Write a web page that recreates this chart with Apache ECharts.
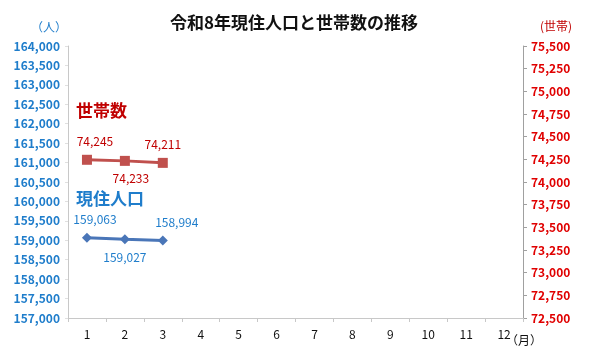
<!DOCTYPE html>
<html>
<head>
<meta charset="utf-8">
<script src="https://cdn.jsdelivr.net/npm/echarts@6/dist/echarts.min.js"></script>
<style>
  html, body { margin: 0; padding: 0; background: #fff; }
  #chart { width: 600px; height: 359px; }
</style>
</head>
<body>
<div id="chart"></div>
<script>
// 月 (カテゴリ)
const months = ['1', '2', '3', '4', '5', '6', '7', '8', '9', '10', '11', '12'];
// 現住人口 (人)
const population = [159063, 159027, 158994];
// 世帯数 (世帯)
const households = [74245, 74233, 74211];

const FONT = '"Noto Sans CJK JP", "Noto Sans", sans-serif';
const BLUE_TXT = '#1F7DCB';
const BLUE_LINE = '#4A76B8';
const RED_TXT = '#C00000';
const RED_LINE = '#C0504D';

// データラベルの配置 (上/下, 横ずれ)
const popLabels = [
    { position: 'top', offset: [8, 0] },
    { position: 'bottom', offset: [0, 0] },
    { position: 'top', offset: [14, 0] }
];
const hhLabels = [
    { position: 'top', offset: [8, 0] },
    { position: 'bottom', offset: [6, 0] },
    { position: 'top', offset: [0, 0] }
];

const fmt = v => v.toLocaleString('en-US');

const chart = echarts.init(document.getElementById('chart'));

const option = {
    animation: false,
    textStyle: { fontFamily: FONT },
    title: {
        text: '令和8年現住人口と世帯数の推移',
        left: 289,
        textAlign: 'center',
        top: 9,
        textStyle: { fontSize: 17, fontWeight: 'bold', color: '#111', fontFamily: FONT }
    },
    grid: { left: 68, right: 77, top: 46, bottom: 41 },
    xAxis: {
        type: 'category',
        data: months,
        boundaryGap: true,
        axisLine: { lineStyle: { color: '#c8c8c8' } },
        axisTick: { show: true, length: 4, lineStyle: { color: '#c8c8c8' } },
        axisLabel: { color: '#111', fontSize: 12, margin: 10 },
        splitLine: { show: false }
    },
    yAxis: [
        {
            type: 'value',
            min: 157000,
            max: 164000,
            interval: 500,
            position: 'left',
            axisLine: { show: true, lineStyle: { color: '#c8c8c8' } },
            axisTick: { show: true, length: 3, lineStyle: { color: '#e0e0e0' } },
            axisLabel: { color: BLUE_TXT, fontSize: 12, fontWeight: 'bold', formatter: fmt, margin: 8 },
            splitLine: { show: false }
        },
        {
            type: 'value',
            min: 72500,
            max: 75500,
            interval: 250,
            position: 'right',
            axisLine: { show: true, lineStyle: { color: '#a0a0a0' } },
            axisTick: { show: true, length: 4, lineStyle: { color: '#a0a0a0' } },
            axisLabel: { color: '#E00000', fontSize: 12, fontWeight: 'bold', formatter: fmt, margin: 8 },
            splitLine: { show: false }
        }
    ],
    series: [
        {
            name: '現住人口',
            type: 'line',
            yAxisIndex: 0,
            data: population.map((v, i) => ({ value: v, label: popLabels[i] })),
            symbol: 'diamond',
            symbolSize: 10,
            itemStyle: { color: BLUE_LINE },
            lineStyle: { color: BLUE_LINE, width: 3 },
            label: {
                show: true,
                color: BLUE_TXT,
                fontSize: 12,
                distance: 7,
                formatter: p => fmt(p.value)
            }
        },
        {
            name: '世帯数',
            type: 'line',
            yAxisIndex: 1,
            data: households.map((v, i) => ({ value: v, label: hhLabels[i] })),
            symbol: 'rect',
            symbolSize: 10,
            itemStyle: { color: RED_LINE },
            lineStyle: { color: RED_LINE, width: 3 },
            label: {
                show: true,
                color: RED_TXT,
                fontSize: 12,
                distance: 7,
                formatter: p => fmt(p.value)
            }
        }
    ],
    graphic: [
        { type: 'text', left: 31, top: 21, style: { text: '（人）', fill: BLUE_TXT, font: '12px ' + FONT } },
        { type: 'text', left: 540, top: 20, style: { text: '(世帯)', fill: RED_TXT, font: '12px ' + FONT } },
        { type: 'text', left: 506, top: 334, style: { text: '（月）', fill: '#111', font: '12px ' + FONT } },
        { type: 'text', left: 76, top: 102, style: { text: '世帯数', fill: RED_TXT, font: 'bold 17px ' + FONT } },
        { type: 'text', left: 76, top: 190, style: { text: '現住人口', fill: BLUE_TXT, font: 'bold 17px ' + FONT } }
    ]
};

chart.setOption(option);
</script>
</body>
</html>
